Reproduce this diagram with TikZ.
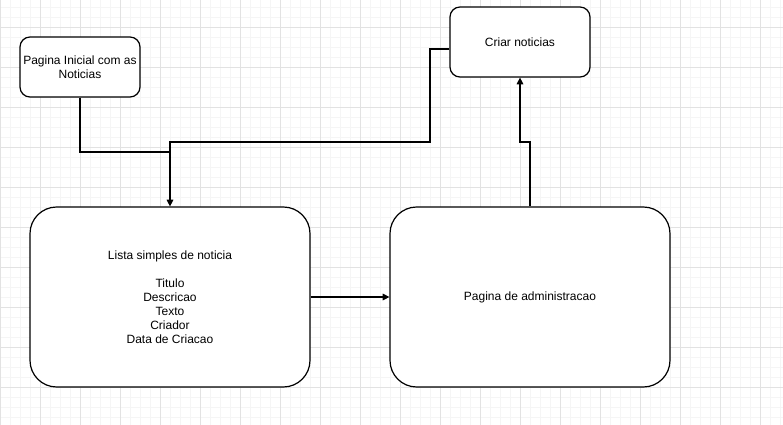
\documentclass[tikz,border=0pt]{standalone}
\usepackage{fontspec}
\setmainfont{Liberation Sans}
\usetikzlibrary{arrows.meta}
\definecolor{gridmajor}{HTML}{E2E2E2}
\definecolor{gridminor}{HTML}{F5F5F5}
\begin{document}
\begin{tikzpicture}[x=0.75pt,y=-0.75pt,
  box/.style={draw=black,line width=0.9pt,fill=white,align=center,font=\fontsize{9}{10.5}\selectfont,inner sep=0pt},
  conn/.style={draw=black,line width=0.8pt},
  arr/.style={conn,-{Triangle[length=5pt,width=5pt]}}]
\useasboundingbox (0,0) rectangle (783,425);
\fill[white] (0,0) rectangle (783,425);
\foreach \x in {0,10,...,780} \draw[gridminor,line width=0.6pt] (\x,0) -- (\x,425);
\foreach \y in {7,17,...,425} \draw[gridminor,line width=0.6pt] (0,\y) -- (783,\y);
\foreach \x in {0,40,...,780} \draw[gridmajor,line width=0.6pt] (\x,0) -- (\x,425);
\foreach \y in {27,67,...,425} \draw[gridmajor,line width=0.6pt] (0,\y) -- (783,\y);

\node[box,rounded corners=7.5pt,minimum width=90pt,minimum height=45pt] (inicial) at (80,67) {Pagina Inicial com as\\Noticias};
\node[box,rounded corners=7.5pt,minimum width=105pt,minimum height=52.5pt] (criar) at (520,42) {Criar noticias};
\node[box,rounded corners=20pt,minimum width=210pt,minimum height=135pt] (lista) at (170,297) {Lista simples de noticia\\[10.5pt]Titulo\\Descricao\\Texto\\Criador\\Data de Criacao};
\node[box,rounded corners=20pt,minimum width=210pt,minimum height=135pt] (admin) at (530,297) {Pagina de administracao};

\coordinate (j1) at (80,152);
\coordinate (j2) at (170,152);
\coordinate (b1) at (430,49);
\coordinate (b2) at (430,142);
\coordinate (b3) at (170,142);
\coordinate (d1) at (530,142);
\coordinate (d2) at (520,142);

\draw[conn] (inicial.south) -- (j1) -- (j2);
\draw[arr] ([yshift=-5.25pt]criar.west) -- (b1) -- (b2) -- (b3) -- (lista.north);
\draw[arr] (admin.north) -- (d1) -- (d2) -- (d2 |- criar.south);
\draw[arr] (lista.east) -- (admin.west);
\end{tikzpicture}
\end{document}
